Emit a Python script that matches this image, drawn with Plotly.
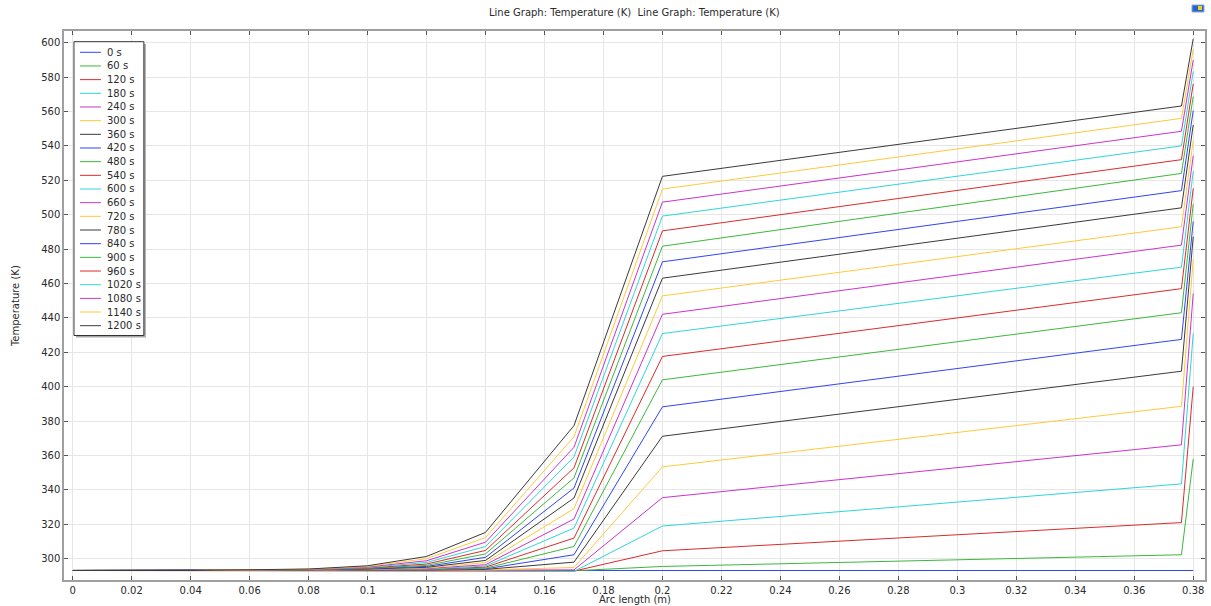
import plotly.graph_objects as go

# Time steps (s) and the line colour cycle
times = [0, 60, 120, 180, 240, 300, 360, 420, 480, 540, 600,
         660, 720, 780, 840, 900, 960, 1020, 1080, 1140, 1200]
cycle = ["#3045f2", "#3cb83c", "#dd2a2a", "#2ed6dc", "#cc33cc", "#ffc93a", "#3a3a3a"]

# Arc-length nodes (m)
arc = [0.0, 0.04, 0.08, 0.10, 0.12, 0.14, 0.17, 0.20, 0.376, 0.38]

# Temperature (K) at each node, one value per time step
T_000 = [293.15] * 21
T_004 = [293.15] * 21
T_008 = [293.15, 293.15, 293.15, 293.15, 293.15, 293.2, 293.2, 293.25, 293.3, 293.3, 293.35,
         293.4, 293.45, 293.5, 293.55, 293.6, 293.7, 293.75, 293.8, 293.9, 294.0]
T_010 = [293.15, 293.15, 293.15, 293.15, 293.2, 293.25, 293.3, 293.4, 293.5, 293.6, 293.7,
         293.8, 293.9, 294.0, 294.2, 294.4, 294.6, 294.9, 295.2, 295.5, 295.9]
T_012 = [293.15, 293.15, 293.15, 293.15, 293.2, 293.3, 293.4, 293.5, 293.6, 293.8, 294.0,
         294.3, 294.6, 295.0, 295.5, 296.1, 296.9, 297.8, 298.8, 300.0, 301.3]
T_014 = [293.15, 293.15, 293.15, 293.2, 293.3, 293.5, 293.8, 294.1, 294.5, 295.1, 295.7,
         296.5, 297.7, 299.0, 300.8, 302.8, 304.8, 307.1, 309.6, 312.3, 315.3]
T_017 = [293.15, 293.0, 292.8, 292.6, 293.5, 294.9, 298.0, 302.3, 307.1, 312.0, 317.8,
         323.1, 329.1, 335.3, 341.1, 347.0, 352.8, 359.2, 364.8, 370.9, 377.4]
T_020 = [293.15, 295.5, 304.6, 319.0, 335.5, 353.4, 371.2, 388.3, 404.0, 417.6, 430.9,
         442.1, 452.8, 463.1, 472.6, 481.7, 490.6, 499.2, 507.3, 514.9, 522.3]
T_0376 = [293.15, 302.3, 321.0, 343.5, 366.2, 388.6, 409.0, 427.5, 443.0, 457.0, 469.5,
          482.3, 493.0, 504.0, 514.0, 524.0, 532.0, 540.0, 548.5, 556.0, 563.2]
T_038 = [293.15, 358.0, 400.0, 431.0, 454.2, 474.0, 487.2, 496.1, 506.2, 515.3, 525.2,
         534.3, 543.1, 552.2, 560.6, 568.7, 576.1, 583.3, 589.9, 596.1, 602.3]

columns = [T_000, T_004, T_008, T_010, T_012, T_014, T_017, T_020, T_0376, T_038]

x_ticks = [0, 0.02, 0.04, 0.06, 0.08, 0.1, 0.12, 0.14, 0.16, 0.18, 0.2,
           0.22, 0.24, 0.26, 0.28, 0.3, 0.32, 0.34, 0.36, 0.38]
x_tick_text = ["0", "0.02", "0.04", "0.06", "0.08", "0.1", "0.12", "0.14", "0.16", "0.18", "0.2",
               "0.22", "0.24", "0.26", "0.28", "0.3", "0.32", "0.34", "0.36", "0.38"]
y_ticks = list(range(300, 601, 20))

FONT = "DejaVu Sans"
TEXT = "#2a2a2a"
W, H = 1211, 606
L, R, T, B = 64, 4, 31, 26
PW, PH = W - L - R, H - T - B


def px(x):
    return (x - L) / PW


def py(y):
    return (H - B - y) / PH


fig = go.Figure()
for i, t in enumerate(times):
    fig.add_trace(go.Scatter(
        x=arc, y=[col[i] for col in columns], mode="lines",
        line=dict(color=cycle[i % 7], width=1), name=f"{t} s",
        showlegend=False, hoverinfo="x+y+name"))

shapes = []
annotations = []

# Legend box with a soft drop shadow
shapes.append(dict(type="rect", xref="paper", yref="paper", x0=px(76), x1=px(146),
                   y0=py(44), y1=py(337.5), fillcolor="#a8a8a8", line=dict(width=0), layer="above"))
shapes.append(dict(type="rect", xref="paper", yref="paper", x0=px(74), x1=px(144),
                   y0=py(41.7), y1=py(335.5), fillcolor="white",
                   line=dict(color="#333333", width=1), layer="above"))
for i, t in enumerate(times):
    yc = 52.3 + i * 13.67
    shapes.append(dict(type="line", xref="paper", yref="paper", x0=px(80), x1=px(101),
                       y0=py(yc), y1=py(yc), line=dict(color=cycle[i % 7], width=1), layer="above"))
    annotations.append(dict(xref="paper", yref="paper", x=px(105), y=py(yc), text=f"{t} s",
                            showarrow=False, xanchor="left", yanchor="middle",
                            font=dict(family=FONT, size=10, color=TEXT)))

# Axis titles
annotations.append(dict(xref="paper", yref="paper", x=0.5, y=py(599.5), text="Arc length (m)",
                        showarrow=False, xanchor="center", yanchor="middle",
                        font=dict(family=FONT, size=10, color=TEXT)))
annotations.append(dict(xref="paper", yref="paper", x=px(15), y=py(306), text="Temperature (K)",
                        showarrow=False, xanchor="center", yanchor="middle", textangle=-90,
                        font=dict(family=FONT, size=10, color=TEXT)))
# Title
annotations.append(dict(xref="paper", yref="paper", x=0.5, y=py(12),
                        text="Line Graph: Temperature (K)  Line Graph: Temperature (K)",
                        showarrow=False, xanchor="center", yanchor="middle",
                        font=dict(family=FONT, size=10, color=TEXT)))

# Small program badge at the top right
shapes.append(dict(type="rect", xref="paper", yref="paper", x0=px(1194), x1=px(1206),
                   y0=py(12), y1=py(5), fillcolor="#2a64c8", line=dict(color="#8aa8d8", width=1)))
shapes.append(dict(type="rect", xref="paper", yref="paper", x0=px(1200), x1=px(1204),
                   y0=py(10), y1=py(6), fillcolor="#f0d020", line=dict(width=0)))

axis_common = dict(showline=True, linecolor="#a0a0a0", linewidth=1.5, mirror="ticks",
                   ticks="inside", ticklen=4, tickcolor="#555555", tickwidth=1,
                   showgrid=True, gridcolor="#e6e6e6", gridwidth=1, zeroline=False,
                   tickfont=dict(family=FONT, size=10, color=TEXT))

fig.update_layout(
    width=W, height=H,
    margin=dict(l=L, r=R, t=T, b=B),
    paper_bgcolor="white", plot_bgcolor="white",
    showlegend=False,
    xaxis=dict(range=[-0.00295, 0.38399], tickvals=x_ticks, ticktext=x_tick_text, **axis_common),
    yaxis=dict(range=[287.62, 606.8], tickvals=y_ticks, **axis_common),
    shapes=shapes, annotations=annotations,
)

fig.write_html("out.html")
